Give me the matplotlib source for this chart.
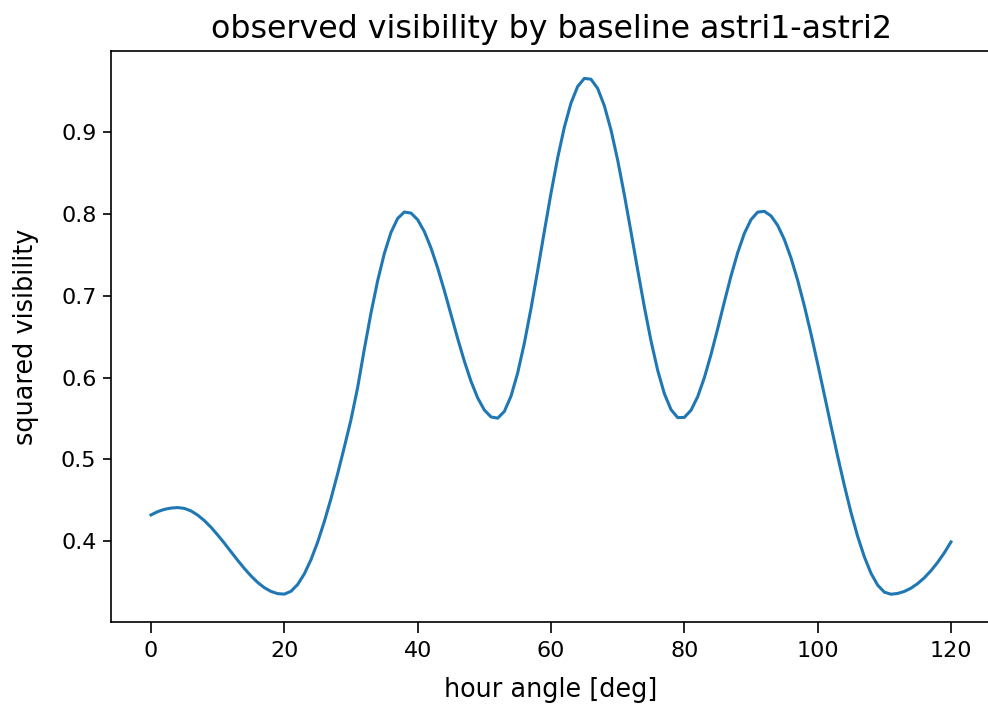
import matplotlib
matplotlib.use("Agg")
import matplotlib.pyplot as plt

# hour angle in degrees, one sample per degree
hour_angle = list(range(0, 121))

# squared visibility
vis2 = [
    0.432, 0.436, 0.4388, 0.4404, 0.441, 0.440, 0.4369, 0.4318, 0.4251, 0.4169,
    0.4075, 0.3975, 0.3869, 0.3765, 0.3665, 0.3574, 0.3494, 0.343, 0.3384, 0.3357,
    0.3351, 0.3386, 0.3469, 0.3599, 0.3773, 0.3988, 0.4239, 0.452, 0.4826, 0.515,
    0.5486, 0.5881, 0.6349, 0.6791, 0.7186, 0.7519, 0.7777, 0.7948, 0.8026, 0.8013,
    0.7932, 0.7787, 0.7586, 0.7341, 0.7065, 0.6772, 0.6479, 0.6202, 0.5955, 0.5752,
    0.5604, 0.5519, 0.5504, 0.5586, 0.5773, 0.6057, 0.6421, 0.6846, 0.731, 0.7789,
    0.8257, 0.8689, 0.9063, 0.936, 0.9562, 0.9661, 0.9651, 0.9538, 0.9327, 0.903,
    0.8661, 0.8238, 0.7783, 0.7318, 0.6866, 0.645, 0.609, 0.5805, 0.5609, 0.5511,
    0.5513, 0.5601, 0.5766, 0.5999, 0.6282, 0.6598, 0.6926, 0.7243, 0.7528, 0.7764,
    0.7933, 0.8025, 0.8035, 0.7979, 0.7863, 0.769, 0.7464, 0.7191, 0.6879, 0.6535,
    0.6169, 0.5791, 0.541, 0.5037, 0.4682, 0.435, 0.4057, 0.3808, 0.3606, 0.3461,
    0.3375, 0.335, 0.3359, 0.3384, 0.3424, 0.348, 0.3551, 0.3638, 0.374, 0.3857,
    0.399,
]

x_ticks = [0, 20, 40, 60, 80, 100, 120]
y_ticks = [0.4, 0.5, 0.6, 0.7, 0.8, 0.9]

fig = plt.figure(figsize=(9.88, 7.11), dpi=100)
ax = fig.add_axes([111 / 988, 1 - 622 / 711, 880 / 988, (622 - 50.7) / 711])

ax.plot(hour_angle, vis2, color="#1f77b4", linewidth=2.2)
ax.set_xlim(-6, 126)
ax.set_ylim(0.301, 1.0)
ax.set_xticks(x_ticks)
ax.set_yticks(y_ticks)

ax.set_title("observed visibility by baseline astri1-astri2", fontsize=22.8, pad=9)
ax.set_xlabel("hour angle [deg]", fontsize=18.4, labelpad=11)
ax.set_ylabel("squared visibility", fontsize=18.4, labelpad=16)
ax.tick_params(labelsize=16, width=1.2)
ax.tick_params(axis="x", length=8, pad=6)
ax.tick_params(axis="y", length=5.5, pad=5)
for s in ax.spines.values():
    s.set_linewidth(1.2)

fig.savefig("out.png", dpi=100)
